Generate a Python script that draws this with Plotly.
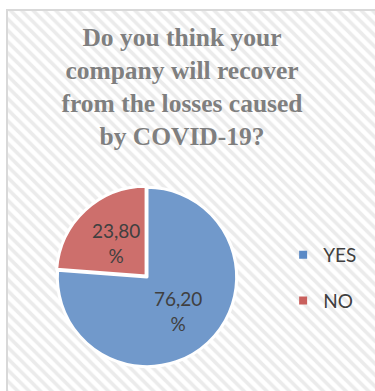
import math
import plotly.graph_objects as go

# Survey answers (percent of respondents)
answers = ["YES", "NO"]
shares = [76.20, 23.80]
slice_colors = ["#7199cb", "#cd6f6c"]
legend_colors = ["#5b8ac6", "#c9605d"]

title_lines = ["Do you think your", "company will recover",
               "from the losses caused", "by COVID-19?"]

W, H = 375, 391
PIE_CX, PIE_CY, PIE_R = 147, 277, 91   # pixel centre / radius of the pie
LABEL_R = 46                          # label distance from the centre

fig = go.Figure()

# Striped chart-area background with a light frame
fig.add_trace(go.Scatter(
    x=[7, 400, 400, 7, 7], y=[-10, -10, H - 10, H - 10, -10],
    mode="lines", fill="toself", line=dict(color="rgba(0,0,0,0)", width=0),
    fillcolor="white",
    fillpattern=dict(shape="\\", size=8, solidity=0.45,
                     fgcolor="#d8d8d8", bgcolor="white"),
    hoverinfo="skip", showlegend=False,
))

fig.add_trace(go.Pie(
    labels=answers, values=shares, sort=False,
    direction="clockwise", rotation=0,
    marker=dict(colors=slice_colors, line=dict(color="white", width=3)),
    pull=[0, 0.015],
    textinfo="none",
    domain=dict(x=[(PIE_CX - PIE_R) / W, (PIE_CX + PIE_R) / W],
                y=[(H - PIE_CY - PIE_R) / H, (H - PIE_CY + PIE_R) / H]),
    showlegend=False, hoverinfo="label+percent",
))

# Value labels placed on each slice's bisector
total = sum(shares)
cum = 0.0
for v in shares:
    theta = 2 * math.pi * (cum + v / 2) / total
    cum += v
    fig.add_annotation(
        xref="paper", yref="paper",
        x=(PIE_CX + LABEL_R * math.sin(theta)) / W,
        y=(H - PIE_CY + LABEL_R * math.cos(theta)) / H,
        text=f"{v:.2f}".replace(".", ",") + "<br>%",
        showarrow=False, xanchor="center", yanchor="middle",
        font=dict(family="Lato", size=19, color="#404040"),
    )

# Legend entries for the two answers
for name, col in zip(answers, legend_colors):
    fig.add_trace(go.Scatter(
        x=[None], y=[None], mode="markers", name=name, legendgroup=name,
        marker=dict(symbol="square", size=8, color=col),
    ))

fig.add_shape(type="rect", xref="x", yref="y", x0=7, x1=400, y0=-10, y1=H - 10,
              line=dict(color="#d9d9d9", width=2), layer="above")

fig.update_layout(
    width=W, height=H,
    margin=dict(l=0, r=0, t=0, b=0),
    paper_bgcolor="white", plot_bgcolor="white",
    separators=",.",
    title=dict(text="<br>".join(f"<b>{t}</b>" for t in title_lines),
               x=182 / W, xanchor="center",
               yref="container", y=1 - 46 / H, yanchor="top",
               font=dict(family="Liberation Serif", size=25.5, color="#7f7f7f")),
    xaxis=dict(range=[0, W], visible=False, fixedrange=True),
    yaxis=dict(range=[0, H], visible=False, fixedrange=True),
    legend=dict(x=0.755, y=1 - 236 / H, xanchor="left", yanchor="top",
                font=dict(family="Lato", size=19, color="#404040"),
                bgcolor="rgba(0,0,0,0)", tracegroupgap=18, itemwidth=30),
)

fig.write_html("out.html")
